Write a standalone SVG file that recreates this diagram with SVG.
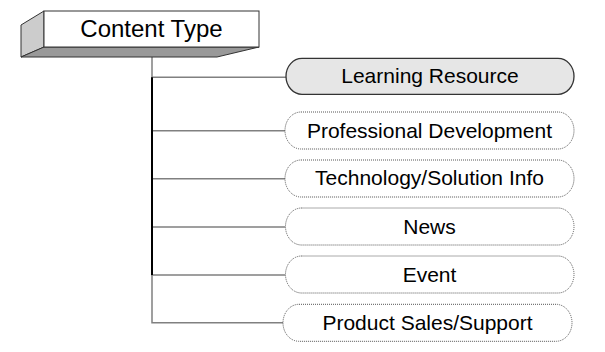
<svg xmlns="http://www.w3.org/2000/svg" width="605" height="352" viewBox="0 0 605 352">
<style>
  .lbl{font-family:"Liberation Sans",Arial,sans-serif;font-size:21px;fill:#000;text-anchor:middle}
  .title{font-family:"Liberation Sans",Arial,sans-serif;font-size:24px;fill:#000;text-anchor:middle}
  .node{fill:#fff;stroke:#555;stroke-width:1;stroke-dasharray:1 1}
  .node.sel{fill:#e6e6e6;stroke:#333;stroke-width:1.3;stroke-dasharray:none}
  .conn{fill:none;stroke:#808080;stroke-width:1.5}
  .trunk{fill:none;stroke:#000;stroke-width:2}
</style>
<rect width="605" height="352" fill="#fff"/>
<g id="connectors">
  <path class="conn" d="M152 47 V77.3 H286"/>
  <path class="conn" d="M152 77.3 V130.7 H285"/>
  <path class="conn" d="M152 130.7 V178.7 H285"/>
  <path class="conn" d="M152 178.7 V227 H285"/>
  <path class="conn" d="M152 227 V275 H285"/>
  <path class="conn" d="M152 275 V322.7 H283"/>
  <path class="trunk" d="M152 77.3 V275"/>
</g>
<g id="content-type">
  <polygon points="21,25 44,11 44,47 21,57" fill="#ccc" stroke="#333" stroke-width="1"/>
  <polygon points="21,57 44,47 259,47 217,57" fill="#999" stroke="#333" stroke-width="1"/>
  <rect x="44" y="11" width="215" height="36" fill="#fff" stroke="#333" stroke-width="1"/>
  <text class="title" x="151.5" y="37">Content Type</text>
</g>
<g id="learning-resource">
  <rect class="node sel" x="286" y="58.3" width="288" height="36" rx="16" ry="18"/>
  <text class="lbl" x="430" y="83">Learning Resource</text>
</g>
<g id="professional-development">
  <rect class="node" x="285" y="112" width="289" height="37" rx="16" ry="18.5"/>
  <text class="lbl" x="429.5" y="137.5">Professional Development</text>
</g>
<g id="technology-solution-info">
  <rect class="node" x="285" y="160" width="289" height="37" rx="16" ry="18.5"/>
  <text class="lbl" x="429.5" y="185.3">Technology/Solution Info</text>
</g>
<g id="news">
  <rect class="node" x="285.5" y="208" width="288.5" height="37" rx="16" ry="18.5"/>
  <text class="lbl" x="429.5" y="233.5">News</text>
</g>
<g id="event">
  <rect class="node" x="285.5" y="256" width="288.5" height="37" rx="16" ry="18.5"/>
  <text class="lbl" x="429.5" y="281.5">Event</text>
</g>
<g id="product-sales-support">
  <rect class="node" x="283" y="304.3" width="289" height="37" rx="16" ry="18.5"/>
  <text class="lbl" x="427.5" y="329.5">Product Sales/Support</text>
</g>
</svg>
